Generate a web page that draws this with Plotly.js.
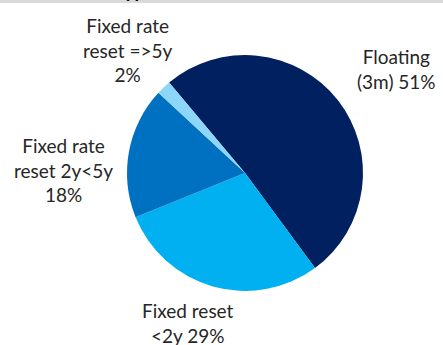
<!DOCTYPE html>
<html>
<head>
<meta charset="utf-8">
<script src="https://cdn.plot.ly/plotly-3.0.1.min.js"></script>
<style>
  html, body { margin: 0; padding: 0; background: #fff; }
  #chart { width: 443px; height: 345px; }
</style>
</head>
<body>
<div id="chart"></div>
<script>
// Loan book split by interest rate type (share of total, %)
const categories = ['Floating (3m)', 'Fixed reset <2y', 'Fixed rate reset 2y<5y', 'Fixed rate reset =>5y'];
const shares = [51, 29, 18, 2];
const sliceColors = ['#002060', '#00B0F0', '#0070C0', '#8DD5F9'];
// Label text, line-broken like the category names
const labelLines = [
  ['Floating', '(3m) ' + shares[0] + '%'],
  ['Fixed reset', '<2y ' + shares[1] + '%'],
  ['Fixed rate', 'reset 2y<5y', shares[2] + '%'],
  ['Fixed rate', 'reset =>5y', shares[3] + '%']
];
const chartTitle = 'Rate Type';

const W = 443, H = 345;
const cx = 245, cy = 173, r = 118;

// Label anchor points (pixel centres)
const labelPos = [
  [396, 69],
  [188, 323],
  [63, 170],
  [128, 50]
];

const px = (x) => x / W;
const py = (y) => 1 - y / H;

const annotations = labelLines.map((lines, i) => ({
  text: lines.join('<br>'),
  x: px(labelPos[i][0]), y: py(labelPos[i][1]),
  xref: 'paper', yref: 'paper',
  xanchor: 'center', yanchor: 'middle',
  showarrow: false,
  align: 'center',
  font: { family: 'Lato, sans-serif', size: 19, color: '#262626' }
}));

annotations.push({
  text: '<b>' + chartTitle + '</b>',
  x: px(158), y: 1, xref: 'paper', yref: 'paper',
  xanchor: 'right', yanchor: 'bottom', yshift: -4,
  showarrow: false,
  font: { family: 'Lato, sans-serif', size: 19, color: '#000000' }
});

const data = [{
  type: 'pie',
  labels: categories,
  values: shares,
  sort: false,
  direction: 'clockwise',
  rotation: -40,
  marker: { colors: sliceColors, line: { width: 0 } },
  textinfo: 'none',
  hoverinfo: 'skip',
  showlegend: false,
  domain: { x: [px(cx - r), px(cx + r)], y: [py(cy + r), py(cy - r)] }
}];

const layout = {
  width: W, height: H,
  margin: { l: 0, r: 0, t: 0, b: 0 },
  paper_bgcolor: '#ffffff',
  showlegend: false,
  shapes: [{
    type: 'rect', xref: 'paper', yref: 'paper',
    x0: 0, x1: 1, y0: py(3), y1: 1,
    fillcolor: '#D9D9D9', line: { width: 0 }, layer: 'below'
  }],
  annotations: annotations
};

Plotly.newPlot('chart', data, layout, { displayModeBar: false, staticPlot: true });
</script>
</body>
</html>
